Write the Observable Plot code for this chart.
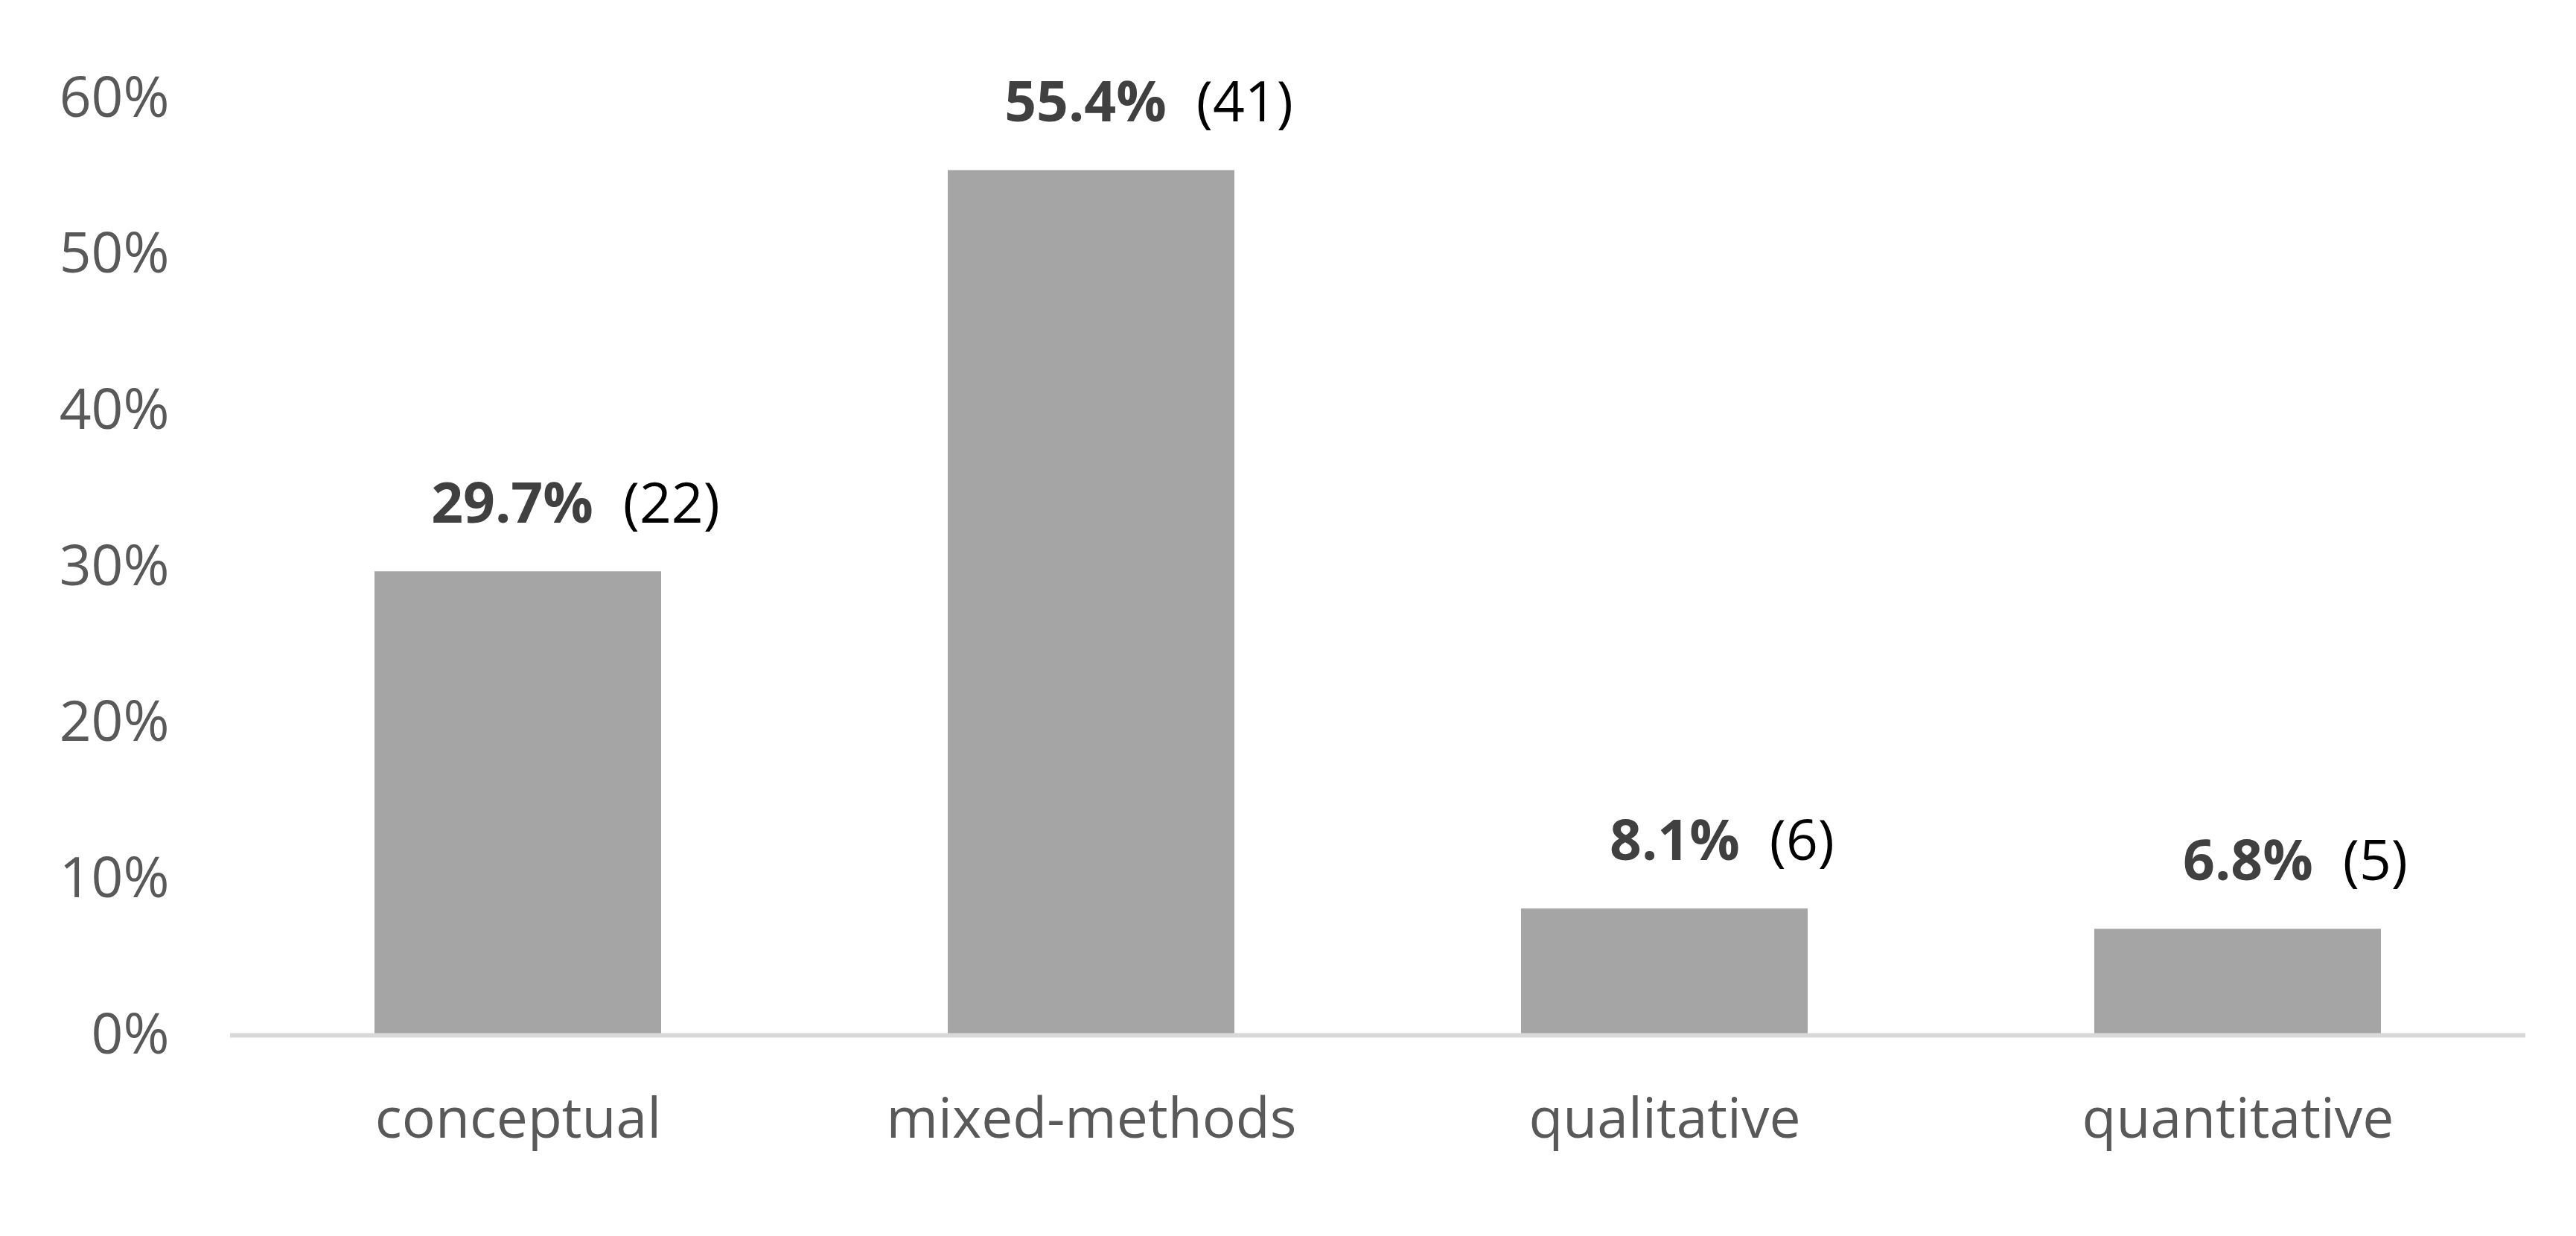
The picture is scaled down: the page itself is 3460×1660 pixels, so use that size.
<!DOCTYPE html>
<html>
<head>
<meta charset="utf-8">
<script src="https://cdn.jsdelivr.net/npm/d3@7"></script>
<script src="https://cdn.jsdelivr.net/npm/@observablehq/plot@0.6"></script>
<style>
  html, body { margin: 0; padding: 0; background: #ffffff; }
  #chart { width: 3460px; height: 1660px; }
</style>
</head>
<body>
<div id="chart"></div>
<script>
const categories = ["conceptual", "mixed-methods", "qualitative", "quantitative"];
const percents = [29.7, 55.4, 8.1, 6.8];
const counts = [22, 41, 6, 5];
const yTicks = [0, 10, 20, 30, 40, 50, 60];

const data = categories.map((c, i) => ({ category: c, pct: percents[i], n: counts[i] }));

const chart = Plot.plot({
  width: 3460,
  height: 1660,
  marginLeft: 309,
  marginRight: 68,
  marginTop: 132,
  marginBottom: 270,
  style: { fontFamily: "'Open Sans', sans-serif", fontSize: "75px", background: "#ffffff" },
  x: { domain: categories, paddingInner: 0.5, paddingOuter: 0.25, label: null },
  y: { domain: [0, 60], label: null },
  marks: [
    Plot.axisX({ tickSize: 0, tickPadding: 84, color: "#595959", label: null, fontSize: 75 }),
    Plot.axisY({ ticks: yTicks, tickFormat: d => `${d}%`, tickSize: 0, tickPadding: 82, color: "#595959", label: null, fontSize: 75 }),
    Plot.barY(data, { x: "category", y: "pct", fill: "#A5A5A5" }),
    Plot.ruleY([0], { stroke: "#D9D9D9", strokeWidth: 6 }),
    Plot.text(data, {
      x: "category", y: "pct",
      text: d => `${d.pct}%|(${d.n})`,
      dy: -90, dx: 77, fontSize: 75, textAnchor: "middle"
    })
  ]
});

document.getElementById("chart").appendChild(chart);

// split each bar label into bold percentage and regular count
const ns = "http://www.w3.org/2000/svg";
chart.querySelectorAll("text").forEach(t => {
  if (!t.textContent.includes("|")) return;
  const [pct, cnt] = t.textContent.split("|");
  t.textContent = "";
  const a = document.createElementNS(ns, "tspan");
  a.setAttribute("font-weight", "bold");
  a.setAttribute("fill", "#404040");
  a.textContent = pct;
  const b = document.createElementNS(ns, "tspan");
  b.setAttribute("fill", "#000000");
  b.setAttribute("dx", "40");
  b.textContent = cnt;
  t.appendChild(a);
  t.appendChild(b);
});
</script>
</body>
</html>
